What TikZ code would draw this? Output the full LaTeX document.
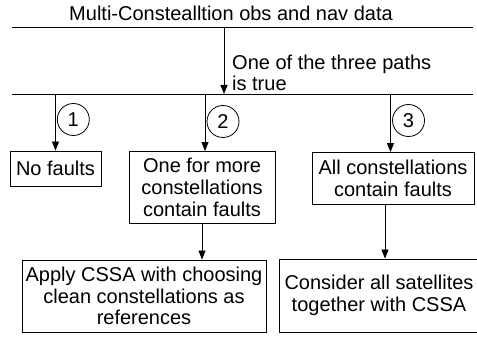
\documentclass[tikz,border=0pt]{standalone}
\usepackage{fontspec}
\setmainfont{Liberation Sans}
\usetikzlibrary{arrows.meta}
\begin{document}
\begin{tikzpicture}[x=1pt,y=-1pt,
  every node/.style={font=\fontsize{20}{21.7}\selectfont},
  box/.style={draw,line width=0.9pt,inner sep=0pt,align=center},
  ln/.style={line width=0.9pt},
  arr/.style={line width=0.9pt,-{Triangle[length=9pt,width=7pt]}},
  num/.style={draw,circle,line width=0.8pt,minimum size=32pt,inner sep=0pt}]
\useasboundingbox (0,0) rectangle (477,339);
% title
\node (title) at (231,13) {Multi-Constealltion obs and nav data};
% horizontal bars
\coordinate (h1a) at (12,27);
\coordinate (h1b) at (473,27);
\coordinate (h2a) at (12,94);
\coordinate (h2b) at (473,94);
\draw[ln] (h1a) -- (h1b);
\draw[ln] (h2a) -- (h2b);
% main arrow
\coordinate (m1) at (224,27);
\coordinate (m2) at (224,94);
\draw[arr] (m1) -- (m2);
\node[anchor=west,align=left,inner sep=0pt] (lbl) at (232,73) {One of the three paths\\is true};
% boxes
\node[box,minimum width=91pt,minimum height=35pt] (b1) at (55.5,168.5) {No faults};
\node[box,minimum width=146pt,minimum height=72pt] (b2) at (202,187.5) {One for more\\constellations\\contain faults};
\node[box,minimum width=162pt,minimum height=52pt] (b3) at (393,178.5) {All constellations\\contain faults};
\node[box,minimum width=244pt,minimum height=72pt] (b4) at (144,296) {Apply CSSA with choosing\\clean constellations as\\references};
\node[box,minimum width=200pt,minimum height=73pt] (b5) at (379,295.5) {Consider all satellites\\together with CSSA};
% branch arrows
\coordinate (p1) at (55.5,94);
\coordinate (p2) at (205,94);
\coordinate (p3) at (390.5,94);
\draw[arr] (p1) -- (b1.north);
\draw[arr] (p2) -- (p2 |- b2.north);
\draw[arr] (p3) -- (p3 |- b3.north);
\draw[arr] (b2.south) -- (b2.south |- b4.north);
\coordinate (q3) at (385,0);
\draw[arr] (q3 |- b3.south) -- (q3 |- b5.north);
% numbers
\node[num] (n1) at (73.3,119.5) {1};
\node[num] (n2) at (223,121.5) {2};
\node[num] (n3) at (408.5,120.5) {3};
\end{tikzpicture}
\end{document}
